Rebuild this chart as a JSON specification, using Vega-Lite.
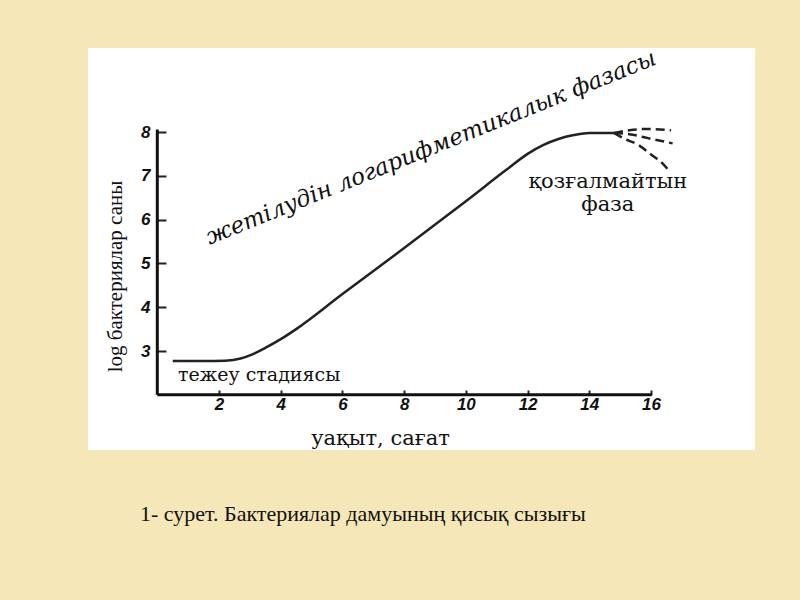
{
  "$schema": "https://vega.github.io/schema/vega-lite/v6.json",
  "width": 667,
  "height": 402,
  "autosize": {"type": "none"},
  "padding": {"left": 88, "top": 48, "right": 45, "bottom": 150},
  "background": "#f6e7b8",
  "view": {"fill": "white", "stroke": null},
  "title": {
    "text": "1- сурет. Бактериялар дамуының қисық сызығы",
    "orient": "bottom",
    "anchor": "start",
    "frame": "group",
    "offset": 54,
    "dx": 52,
    "font": "Liberation Serif",
    "fontSize": 22,
    "fontWeight": "normal",
    "color": "#111111"
  },
  "datasets": {
    "curve": [
      {"x": 0.5, "y": 2.77}, {"x": 1.5, "y": 2.77}, {"x": 2.2, "y": 2.78},
      {"x": 2.7, "y": 2.83}, {"x": 3.1, "y": 2.93}, {"x": 3.5, "y": 3.07},
      {"x": 4.0, "y": 3.27}, {"x": 4.5, "y": 3.5}, {"x": 6.0, "y": 4.3},
      {"x": 8.0, "y": 5.35}, {"x": 10.0, "y": 6.42}, {"x": 11.3, "y": 7.13},
      {"x": 12.0, "y": 7.5}, {"x": 12.5, "y": 7.7}, {"x": 13.0, "y": 7.84},
      {"x": 13.5, "y": 7.93}, {"x": 14.0, "y": 7.98}, {"x": 14.8, "y": 7.98}
    ],
    "branches": [
      {"b": "A", "o": 0, "x": 14.8, "y": 7.98}, {"b": "A", "o": 1, "x": 15.3, "y": 8.04},
      {"b": "A", "o": 2, "x": 15.9, "y": 8.07}, {"b": "A", "o": 3, "x": 16.65, "y": 8.04},
      {"b": "B", "o": 0, "x": 14.8, "y": 7.98}, {"b": "B", "o": 1, "x": 15.3, "y": 7.95},
      {"b": "B", "o": 2, "x": 15.9, "y": 7.86}, {"b": "B", "o": 3, "x": 16.7, "y": 7.74},
      {"b": "C", "o": 0, "x": 14.8, "y": 7.98}, {"b": "C", "o": 1, "x": 15.1, "y": 7.86},
      {"b": "C", "o": 2, "x": 15.6, "y": 7.7}, {"b": "C", "o": 3, "x": 16.03, "y": 7.47},
      {"b": "C", "o": 4, "x": 16.38, "y": 7.28}, {"b": "C", "o": 5, "x": 16.6, "y": 7.1}
    ],
    "axislines": [
      {"x": 0, "x2": 0, "y": 2, "y2": 8.06},
      {"x": 0, "x2": 16.02, "y": 2, "y2": 2}
    ]
  },
  "layer": [
    {
      "data": {"name": "axislines"},
      "mark": {"type": "rule", "color": "#111111", "strokeWidth": 3},
      "encoding": {
        "x": {
          "field": "x", "type": "quantitative",
          "scale": {"domain": [-2.246, 19.37], "nice": false, "zero": false},
          "axis": {
            "values": [2, 4, 6, 8, 10, 12, 14, 16],
            "offset": -55, "domain": false, "grid": false,
            "tickSize": -5, "tickWidth": 2, "tickColor": "#222222",
            "labelPadding": 6, "labelFont": "Liberation Sans", "labelFontWeight": "bold",
            "labelFontStyle": "italic", "labelFontSize": 17, "labelColor": "#111111",
            "title": "уақыт, сағат", "titleFont": "DejaVu Serif", "titleFontSize": 21,
            "titleFontWeight": "normal", "titleColor": "#111111",
            "titleX": 292, "titleY": 43, "titleBaseline": "middle", "titleAlign": "center"
          }
        },
        "x2": {"field": "x2"},
        "y": {
          "field": "y", "type": "quantitative",
          "scale": {"domain": [0.74, 9.918], "nice": false, "zero": false},
          "axis": {
            "values": [3, 4, 5, 6, 7, 8],
            "offset": -69, "domain": false, "grid": false,
            "tickSize": -9, "tickWidth": 2, "tickColor": "#222222",
            "labelPadding": 16, "labelFont": "Liberation Sans", "labelFontWeight": "bold",
            "labelFontStyle": "italic", "labelFontSize": 17, "labelColor": "#111111",
            "title": "log бактериялар саны", "titleFont": "Liberation Serif", "titleFontSize": 21,
            "titleFontWeight": "normal", "titleColor": "#111111",
            "titleX": -42, "titleY": 228, "titleBaseline": "middle", "titleAngle": -90, "titleAlign": "center"
          }
        },
        "y2": {"field": "y2"}
      }
    },
    {
      "data": {"name": "curve"},
      "mark": {"type": "line", "color": "#222222", "strokeWidth": 2.5, "interpolate": "monotone"},
      "encoding": {
        "x": {"field": "x", "type": "quantitative"},
        "y": {"field": "y", "type": "quantitative"}
      }
    },
    {
      "data": {"name": "branches"},
      "mark": {"type": "line", "color": "#222222", "strokeWidth": 2.5, "strokeDash": [9, 5], "interpolate": "monotone"},
      "encoding": {
        "x": {"field": "x", "type": "quantitative"},
        "y": {"field": "y", "type": "quantitative"},
        "detail": {"field": "b"},
        "order": {"field": "o"}
      }
    },
    {
      "data": {"values": [{"x": 8.87, "y": 7.64, "t": "жетілудін логарифметикалык фазасы"}]},
      "mark": {"type": "text", "font": "DejaVu Serif", "fontStyle": "italic", "fontSize": 23, "angle": -22, "align": "center", "baseline": "middle", "color": "#111111"},
      "encoding": {
        "x": {"field": "x", "type": "quantitative"},
        "y": {"field": "y", "type": "quantitative"},
        "text": {"field": "t"}
      }
    },
    {
      "data": {"values": [
        {"x": 14.6, "y": 6.86, "t": "қозғалмайтын"},
        {"x": 14.6, "y": 6.34, "t": "фаза"}
      ]},
      "mark": {"type": "text", "font": "DejaVu Serif", "fontSize": 21, "align": "center", "baseline": "middle", "color": "#111111"},
      "encoding": {
        "x": {"field": "x", "type": "quantitative"},
        "y": {"field": "y", "type": "quantitative"},
        "text": {"field": "t"}
      }
    },
    {
      "data": {"values": [{"x": 3.3, "y": 2.45, "t": "тежеу стадиясы"}]},
      "mark": {"type": "text", "font": "DejaVu Serif", "fontSize": 19, "align": "center", "baseline": "middle", "color": "#111111"},
      "encoding": {
        "x": {"field": "x", "type": "quantitative"},
        "y": {"field": "y", "type": "quantitative"},
        "text": {"field": "t"}
      }
    }
  ]
}
